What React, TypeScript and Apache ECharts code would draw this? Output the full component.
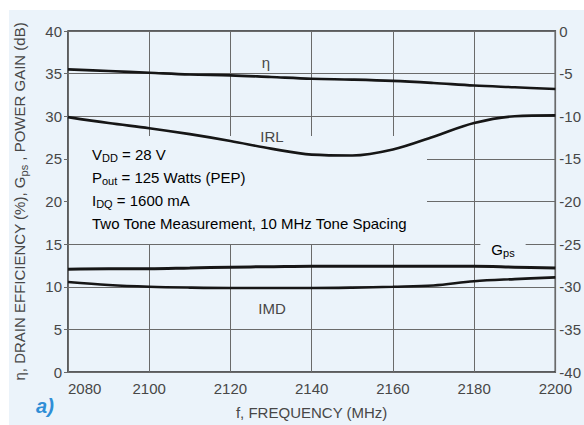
import { useEffect, useRef } from 'react';
import * as echarts from 'echarts';

// Frequency sweep (MHz)
const freqMHz = [2080, 2090, 2100, 2110, 2120, 2130, 2140, 2150, 2160, 2170, 2180, 2190, 2200];
// Drain efficiency η (%) – left axis
const drainEfficiency = [35.5, 35.3, 35.1, 34.9, 34.8, 34.6, 34.4, 34.3, 34.15, 33.9, 33.6, 33.4, 33.2];
// Power gain Gps (dB) – left axis
const powerGain = [12.05, 12.1, 12.1, 12.2, 12.3, 12.35, 12.4, 12.4, 12.4, 12.4, 12.4, 12.3, 12.2];
// Input return loss IRL (dB) – right axis
const inputReturnLoss = [-10.1, -10.8, -11.4, -12.1, -12.9, -13.8, -14.5, -14.6, -13.9, -12.4, -10.8, -10.0, -9.9];
// Intermodulation distortion IMD (dBc) – right axis
const imd = [-29.45, -29.8, -30.0, -30.1, -30.15, -30.15, -30.15, -30.1, -30.0, -29.85, -29.35, -29.1, -28.9];

const conditions = [
  'V{s|DD} = 28 V',
  'P{s|out} = 125 Watts (PEP)',
  'I{s|DQ} = 1600 mA',
  'Two Tone Measurement, 10 MHz Tone Spacing',
];

const FONT = '"Liberation Sans", Arial, sans-serif';
const BG = '#ebf3fa';
const INK = '#474747';
const GRID = '#6a6a6a';
const CURVE = '#161616';

const pairs = (ys: number[]) => freqMHz.map((f, i) => [f, ys[i]]);

const subRich = {
  m: { fontSize: 15, fontFamily: FONT, color: INK, lineHeight: 19 },
  s: { fontSize: 11, fontFamily: FONT, color: INK, lineHeight: 11, verticalAlign: 'bottom' },
};

function wrapMain(t: string) {
  // wrap plain parts in the "m" style so they share the line height
  return t
    .split(/(\{s\|[^}]*\})/)
    .filter((p) => p.length > 0)
    .map((p) => (p.startsWith('{s|') ? p : `{m|${p}}`))
    .join('');
}

export default function App() {
  const ref = useRef<HTMLDivElement>(null);

  useEffect(() => {
    if (!ref.current) return;
    const chart = echarts.init(ref.current, null, { renderer: 'svg' });

    const lineSeries = (name: string, data: number[], axis: number, width: number) => ({
      name,
      type: 'line',
      yAxisIndex: axis,
      data: pairs(data),
      smooth: 0.35,
      symbol: 'none',
      z: 3,
      lineStyle: { color: CURVE, width },
    });

    chart.setOption({
      animation: false,
      backgroundColor: BG,
      textStyle: { fontFamily: FONT },
      grid: {
        left: 68,
        top: 31,
        right: 27,
        bottom: 49,
        show: true,
        borderColor: '#2b2b2b',
        borderWidth: 1.5,
        backgroundColor: 'transparent',
      },
      xAxis: {
        type: 'value',
        min: 2080,
        max: 2200,
        interval: 20,
        axisLine: { show: false },
        axisTick: { show: false },
        splitLine: { show: true, lineStyle: { color: GRID, width: 1 } },
        axisLabel: {
          color: INK,
          fontSize: 15,
          fontFamily: FONT,
          margin: 9,
          alignMinLabel: 'left',
          formatter: (v: number) => String(v),
        },
        name: 'f, FREQUENCY (MHz)',
        nameLocation: 'middle',
        nameGap: 33,
        nameTextStyle: { color: INK, fontSize: 15, fontFamily: FONT },
      },
      yAxis: [
        {
          type: 'value',
          min: 0,
          max: 40,
          interval: 5,
          position: 'left',
          axisLine: { show: false },
          axisTick: { show: true, length: 4, lineStyle: { color: GRID } },
          splitLine: { show: true, lineStyle: { color: GRID, width: 1 } },
          axisLabel: { color: INK, fontSize: 15, fontFamily: FONT, margin: 6 },
          name: wrapMain('η, DRAIN EFFICIENCY (%), G{s|ps} , POWER GAIN (dB)'),
          nameLocation: 'middle',
          nameGap: 39,
          nameTextStyle: { color: INK, fontSize: 15, fontFamily: FONT, rich: subRich },
        },
        {
          type: 'value',
          min: -40,
          max: 0,
          interval: 5,
          position: 'right',
          axisLine: { show: false },
          axisTick: { show: false },
          splitLine: { show: false },
          axisLabel: { color: INK, fontSize: 15, fontFamily: FONT, margin: 4 },
        },
      ],
      series: [
        lineSeries('η', drainEfficiency, 0, 2.6),
        lineSeries('Gps', powerGain, 0, 3),
        lineSeries('IRL', inputReturnLoss, 1, 2.6),
        lineSeries('IMD', imd, 1, 2.6),
      ],
      graphic: [
        // clear the grid behind the test-condition block
        {
          type: 'rect',
          z: 1,
          shape: { x: 69, y: 136, width: 358, height: 108 },
          style: { fill: BG },
          silent: true,
        },
        ...conditions.map((t, i) => ({
          type: 'text',
          z: 10,
          x: 92,
          y: 154 + i * 23,
          style: {
            text: wrapMain(t),
            rich: subRich,
            verticalAlign: 'middle',
            align: 'left',
          },
        })),
        {
          type: 'text',
          z: 10,
          x: 266,
          y: 62,
          style: { text: 'η', font: `15px ${FONT}`, fill: INK, align: 'center', verticalAlign: 'middle' },
        },
        {
          type: 'text',
          z: 10,
          x: 272,
          y: 136,
          style: { text: 'IRL', font: `15px ${FONT}`, fill: INK, align: 'center', verticalAlign: 'middle' },
        },
        {
          type: 'text',
          z: 10,
          x: 272,
          y: 308,
          style: { text: 'IMD', font: `15px ${FONT}`, fill: INK, align: 'center', verticalAlign: 'middle' },
        },
        {
          type: 'text',
          z: 10,
          x: 503,
          y: 249,
          style: {
            text: wrapMain('G{s|ps}'),
            rich: subRich,
            align: 'center',
            verticalAlign: 'middle',
            backgroundColor: BG,
            padding: [0, 11, 0, 11],
          },
        },
        {
          type: 'text',
          z: 10,
          x: 45,
          y: 406,
          style: {
            text: 'a)',
            font: `italic bold 20px ${FONT}`,
            fill: '#2f8ed6',
            align: 'center',
            verticalAlign: 'middle',
          },
        },
      ],
    });

    return () => chart.dispose();
  }, []);

  return (
    <div style={{ position: 'fixed', left: 0, top: 0, width: 584, height: 425, background: '#ffffff' }}>
      <div ref={ref} style={{ position: 'absolute', left: 0, top: 0, width: 584, height: 425 }} />
      <div style={{ position: 'absolute', left: 0, top: 0, width: 584, height: 10, background: '#ffffff' }} />
      <div style={{ position: 'absolute', left: 0, top: 0, width: 9, height: 425, background: '#ffffff' }} />
    </div>
  );
}
